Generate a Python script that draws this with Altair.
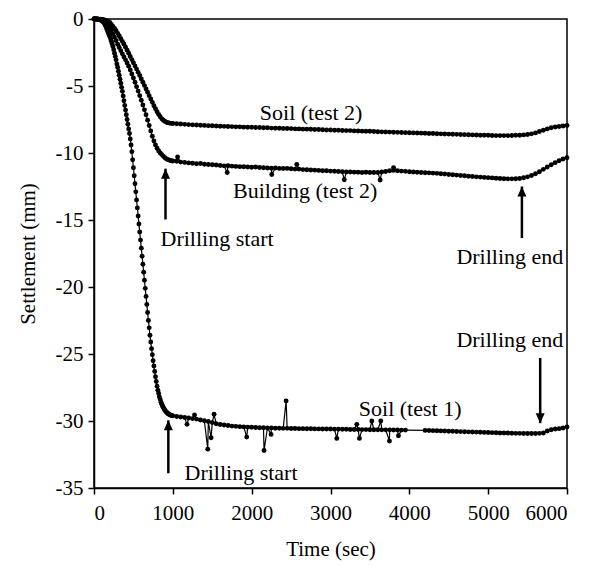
import altair as alt
import pandas as pd

# ---------------- data ----------------
# Soil (test 1): transition part sampled every 10 s (0..1000)
soil1_tr_t = list(range(0, 1001, 10))
soil1_tr_v = [0, 0, 0, 0, -0.01, -0.02, -0.03, -0.05, -0.07, -0.1,
              -0.13, -0.18, -0.24, -0.32, -0.42, -0.55, -0.7, -0.85, -1.0, -1.15,
              -1.3, -1.48, -1.66, -1.85, -2.05, -2.3, -2.55, -2.8, -3.05, -3.35,
              -3.6, -3.9, -4.2, -4.5, -4.8, -5.1, -5.4, -5.75, -6.1, -6.45,
              -6.8, -7.15, -7.5, -7.85, -8.2, -8.55, -8.95, -9.4, -9.9, -10.5,
              -11.1, -11.7, -12.3, -12.9, -13.5, -14.1, -14.7, -15.3, -15.9, -16.5,
              -17.1, -17.7, -18.3, -18.9, -19.5, -20.1, -20.7, -21.3, -21.9, -22.5,
              -23.05, -23.6, -24.1, -24.6, -25.05, -25.5, -25.9, -26.3, -26.7, -27.05,
              -27.4, -27.7, -27.95, -28.2, -28.4, -28.6, -28.75, -28.9, -29.0, -29.1,
              -29.2, -29.28, -29.35, -29.4, -29.45, -29.5, -29.53, -29.56, -29.58, -29.6,
              -29.62]
# Soil (test 1): flat part 1050..3950 every 50 s
soil1_fa_t = list(range(1050, 3951, 50))
soil1_fa_v = [-29.66, -29.7, -29.74, -29.78, -29.82, -29.86, -29.92, -29.98, -30.04, -30.12,
              -30.2, -30.26, -30.3, -30.34, -30.38, -30.4, -30.42, -30.44, -30.46, -30.47,
              -30.48, -30.5, -30.5, -30.52, -30.52, -30.54, -30.54, -30.55, -30.55, -30.56,
              -30.56, -30.57, -30.57, -30.58, -30.58, -30.59, -30.59, -30.6, -30.6, -30.6,
              -30.61, -30.61, -30.62, -30.62, -30.63, -30.63, -30.63, -30.64, -30.64, -30.65,
              -30.65, -30.65, -30.66, -30.66, -30.66, -30.67, -30.67, -30.68, -30.68]
# Soil (test 1): flat part 4200..6000 every 50 s
soil1_fb_t = list(range(4200, 6001, 50))
soil1_fb_v = [-30.7, -30.71, -30.72, -30.73, -30.74, -30.75, -30.76, -30.77, -30.78, -30.79,
              -30.8, -30.81, -30.82, -30.83, -30.84, -30.85, -30.86, -30.87, -30.88, -30.89,
              -30.9, -30.9, -30.91, -30.92, -30.92, -30.93, -30.93, -30.93, -30.93, -30.92,
              -30.9, -30.75, -30.65, -30.6, -30.57, -30.52, -30.45]
# Soil (test 1): spikes
soil1_out_t = [1180, 1275, 1443, 1485, 1523, 1937, 2157, 2246, 2437, 3080, 3334, 3367, 3524, 3638, 3748, 3862]
soil1_out_v = [-30.25, -29.55, -32.1, -31.25, -29.5, -31.2, -32.2, -31.0, -28.5, -31.3, -30.25, -31.3, -30.0, -30.0, -31.5, -31.1]

# Soil (test 2)
soil2_tr_t = list(range(0, 1001, 20))
soil2_tr_v = [0, 0, 0, -0.01, -0.02, -0.04, -0.06, -0.09, -0.13, -0.18, -0.25,
              -0.4, -0.55, -0.7, -0.88, -1.07, -1.27, -1.47, -1.68, -1.88, -2.1,
              -2.33, -2.56, -2.8, -3.03, -3.26, -3.5, -3.74, -3.98, -4.22, -4.47,
              -4.72, -4.97, -5.22, -5.47, -5.72, -5.97, -6.22, -6.47, -6.7, -6.92,
              -7.12, -7.3, -7.45, -7.56, -7.64, -7.7, -7.74, -7.77, -7.79, -7.8]
soil2_fl_t = list(range(1050, 6001, 50))
soil2_fl_v = [-7.82, -7.84, -7.86, -7.88, -7.9, -7.91, -7.93, -7.94, -7.96, -7.97,
              -7.98, -8.0, -8.01, -8.02, -8.03, -8.05, -8.05, -8.07, -8.08, -8.08,
              -8.1, -8.1, -8.12, -8.12, -8.14, -8.15, -8.15, -8.17, -8.17, -8.18,
              -8.2, -8.2, -8.22, -8.22, -8.23, -8.25, -8.25, -8.26, -8.28, -8.28,
              -8.3, -8.3, -8.32, -8.33, -8.33, -8.35, -8.36, -8.37, -8.38, -8.38,
              -8.4, -8.41, -8.42, -8.43, -8.44, -8.45, -8.46, -8.47, -8.48, -8.49,
              -8.5, -8.51, -8.52, -8.53, -8.54, -8.55, -8.56, -8.57, -8.58, -8.59,
              -8.6, -8.61, -8.62, -8.63, -8.64, -8.65, -8.66, -8.67, -8.67, -8.68,
              -8.69, -8.7, -8.7, -8.7, -8.7, -8.69, -8.68, -8.67, -8.65, -8.62,
              -8.57, -8.5, -8.4, -8.3, -8.2, -8.12, -8.06, -8.02, -7.98, -7.95]

# Building (test 2)
bld_tr_t = list(range(0, 1001, 20))
bld_tr_v = [0, 0, 0, -0.01, -0.03, -0.06, -0.11, -0.2, -0.32, -0.46, -0.62,
            -0.85, -1.1, -1.35, -1.6, -1.88, -2.13, -2.37, -2.6, -2.83, -3.05,
            -3.28, -3.52, -3.8, -4.1, -4.4, -4.72, -5.05, -5.38, -5.72, -6.06,
            -6.42, -6.78, -7.15, -7.55, -7.95, -8.35, -8.75, -9.1, -9.4, -9.65,
            -9.85, -10.0, -10.12, -10.25, -10.35, -10.45, -10.5, -10.55, -10.58, -10.6]
bld_fl_t = list(range(1050, 6001, 50))
bld_fl_v = [-10.62, -10.68, -10.7, -10.74, -10.76, -10.8, -10.78, -10.84, -10.86, -10.88,
            -10.9, -10.93, -10.96, -10.95, -10.98, -11.0, -11.02, -11.03, -11.05, -11.06,
            -11.05, -11.08, -11.1, -11.12, -11.14, -11.12, -11.15, -11.16, -11.15, -11.18,
            -11.2, -11.2, -11.24, -11.25, -11.27, -11.28, -11.3, -11.32, -11.33, -11.35,
            -11.36, -11.38, -11.4, -11.42, -11.42, -11.43, -11.44, -11.45, -11.44, -11.45,
            -11.46, -11.45, -11.42, -11.38, -11.33, -11.3, -11.32, -11.35, -11.37, -11.4,
            -11.42, -11.44, -11.45, -11.47, -11.48, -11.5, -11.52, -11.55, -11.57, -11.6,
            -11.62, -11.65, -11.68, -11.7, -11.73, -11.75, -11.78, -11.8, -11.82, -11.84,
            -11.86, -11.88, -11.9, -11.92, -11.93, -11.93, -11.92, -11.9, -11.85, -11.78,
            -11.68, -11.55, -11.4, -11.22, -11.05, -10.88, -10.72, -10.58, -10.45, -10.35]
bld_out_t = [1060, 1690, 2255, 2572, 3175, 3630, 3800]
bld_out_v = [-10.3, -11.45, -11.6, -10.85, -12.0, -12.02, -11.1]

# Annotations
label_text = ["Soil (test 2)", "Building (test 2)", "Drilling start", "Drilling start",
              "Drilling end", "Drilling end", "Soil (test 1)"]
label_t = [2754, 2678, 1561, 1865, 5275, 5275, 4010]
label_v = [-7.55, -13.37, -16.96, -34.42, -18.25, -24.5, -29.6]

arrow_t = [907, 943, 5428, 5660]
arrow_tail = [-14.96, -33.9, -16.35, -25.3]
arrow_tip = [-11.17, -29.95, -12.5, -30.16]
arrow_dir = ["up", "up", "up", "down"]

x_ticks = [0, 1000, 2000, 3000, 4000, 5000, 6000]
y_ticks = [0, -5, -10, -15, -20, -25, -30, -35]

# ---------------- tables ----------------
rows = []
def add(name, ts, vs):
    assert len(ts) == len(vs), (name, len(ts), len(vs))
    for t, v in zip(ts, vs):
        rows.append({"series": name, "t": t, "v": v})

add("soil1", soil1_tr_t, soil1_tr_v)
add("soil1", soil1_fa_t, soil1_fa_v)
add("soil1", soil1_fb_t, soil1_fb_v)
add("soil1", soil1_out_t, soil1_out_v)
add("soil2", soil2_tr_t, soil2_tr_v)
add("soil2", soil2_fl_t, soil2_fl_v)
add("bld", bld_tr_t, bld_tr_v)
add("bld", bld_fl_t, bld_fl_v)
add("bld", bld_out_t, bld_out_v)
df = pd.DataFrame(rows).sort_values(["series", "t"]).reset_index(drop=True)

labels = pd.DataFrame({"label": label_text, "t": label_t, "v": label_v})
arrows = pd.DataFrame({"t": arrow_t, "v": arrow_tail, "v2": arrow_tip, "dir": arrow_dir})

FONT = "Liberation Serif"

x_enc = alt.X("t:Q", scale=alt.Scale(domain=[0, 6000], nice=False, zero=False),
              axis=alt.Axis(values=x_ticks, title="Time (sec)", labelExpr="toString(datum.value)",
                            labelPadding=8, titlePadding=15))
y_enc = alt.Y("v:Q", scale=alt.Scale(domain=[-35, 0], nice=False, zero=False),
              axis=alt.Axis(values=y_ticks, title="Settlement (mm)", labelExpr="toString(datum.value)",
                            labelPadding=5, titlePadding=17))

line = alt.Chart(df).mark_line(color="black", strokeWidth=1.2).encode(
    x=x_enc, y=y_enc, detail="series:N", order="t:Q")
pts = alt.Chart(df).mark_circle(color="black", size=24, opacity=1).encode(x=x_enc, y=y_enc)

texts = alt.Chart(labels).mark_text(font=FONT, fontSize=22, color="black", align="center",
                                    baseline="alphabetic").encode(x=x_enc, y=y_enc, text="label:N")

shafts = alt.Chart(arrows).mark_rule(color="black", strokeWidth=2.5).encode(
    x=x_enc, y=y_enc, y2="v2:Q")
heads = alt.Chart(arrows).mark_point(filled=True, color="black", opacity=1, strokeWidth=0).encode(
    x=x_enc, y=alt.Y("v2:Q"),
    shape=alt.Shape("dir:N", scale=alt.Scale(domain=["up", "down"],
                                             range=["M0,0L-0.9,2L0.9,2Z", "M0,0L-0.9,-2L0.9,-2Z"]),
                    legend=None),
    size=alt.value(100))

chart = alt.layer(line, pts, shafts, heads, texts).properties(
    width=473, height=469,
    autosize=alt.AutoSizeParams(type="none"),
    padding={"left": 86, "top": 11, "right": 15, "bottom": 78},
).configure_view(stroke="black", strokeWidth=1.5).configure_axis(
    grid=False, domainColor="black", domainWidth=1.5, tickColor="black", tickWidth=1.5, tickSize=6,
    labelFont=FONT, labelFontSize=21, labelColor="black",
    titleFont=FONT, titleFontSize=21, titleFontWeight="normal", titleColor="black",
)

chart.save("out.html", embed_options={"renderer": "svg", "actions": False})
